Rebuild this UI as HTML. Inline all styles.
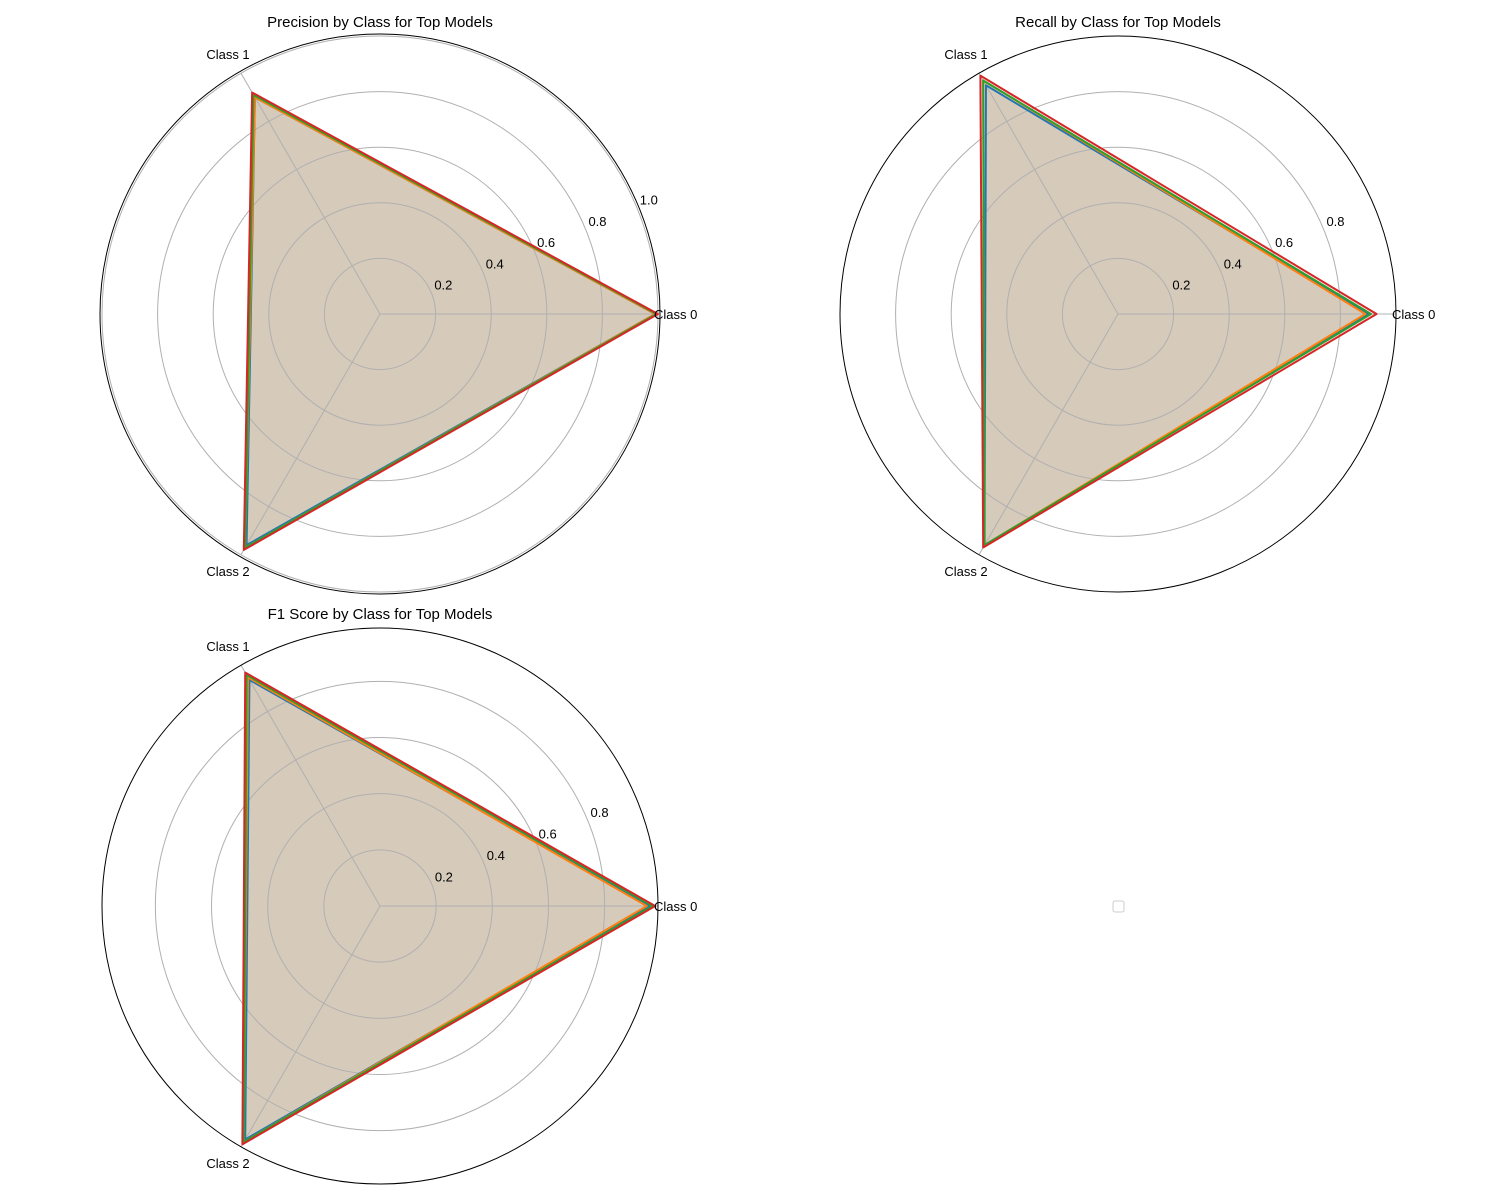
<!DOCTYPE html>
<html><head><meta charset="utf-8">
<style>
body{margin:0;background:#fff;}
svg{display:block;font-family:"Liberation Sans","DejaVu Sans",sans-serif;}
</style></head>
<body>
<svg id="chart" width="1500" height="1200" viewBox="0 0 1500 1200">
<rect width="1500" height="1200" fill="#fff"/>
<rect x="1113" y="901" width="11" height="11" rx="2" fill="#fff" stroke="#ccc"/>
</svg>
<script>
const categories = ["Class 0","Class 1","Class 2"];
const seriesColors = ["#1f77b4","#ff7f0e","#2ca02c","#d62728"];
const precisionValues = [[0.99,0.90,0.96],[0.99,0.90,0.97],[0.995,0.91,0.97],[1.0,0.92,0.98]];
const recallValues = [[0.90,0.95,0.96],[0.89,0.97,0.96],[0.91,0.97,0.96],[0.93,0.99,0.97]];
const f1Values = [[0.96,0.93,0.96],[0.95,0.94,0.97],[0.97,0.95,0.97],[0.98,0.96,0.98]];
const precisionTicks = ["0.2","0.4","0.6","0.8","1.0"];
const recallTicks = ["0.2","0.4","0.6","0.8"];
const f1Ticks = ["0.2","0.4","0.6","0.8"];
const titles = ["Precision by Class for Top Models","Recall by Class for Top Models","F1 Score by Class for Top Models"];

const NS="http://www.w3.org/2000/svg";
const svg=document.getElementById("chart");
function mk(tag,attrs,parent){const e=document.createElementNS(NS,tag);for(const k in attrs)e.setAttribute(k,attrs[k]);(parent||svg).appendChild(e);return e;}

function radar(cx,cy,R,rmax,title,data,ticks,name,doubleSpine){
  const g=mk("g",{});
  
  
  const r=v=>v/rmax*R;
  const ang=i=>i*2*Math.PI/categories.length;
  const pt=(v,i)=>[cx+r(v)*Math.cos(ang(i)),cy-r(v)*Math.sin(ang(i))];
  data.forEach((vals,s)=>{
    const pts=vals.map((v,i)=>pt(v,i).join(",")).join(" ");
    const f=mk("polygon",{points:pts,fill:seriesColors[s],"fill-opacity":0.1,stroke:"none"},g);
    
    
  });
  ticks.forEach((t,k)=>{
    const v=parseFloat(t);
    const c=mk("circle",{cx:cx,cy:cy,r:r(v),fill:"none",stroke:"#b0b0b0","stroke-width":1},g);
    
    
  });
  categories.forEach((c,i)=>{
    const [x,y]=pt(rmax,i);
    const l=mk("line",{x1:cx,y1:cy,x2:x,y2:y,stroke:"#b0b0b0","stroke-width":1},g);
    
    
  });
  data.forEach((vals,s)=>{
    const pts=vals.map((v,i)=>pt(v,i).join(",")).join(" ");
    const p=mk("polygon",{points:pts,fill:"none",stroke:seriesColors[s],"stroke-width":2,"stroke-linejoin":"round"},g);
    
    
  });
  const sp=mk("circle",{cx:cx,cy:cy,r:R+(doubleSpine?2:0),fill:"none",stroke:"#000","stroke-width":1},g);
  
  
  const ta=22.5*Math.PI/180;
  ticks.forEach(t=>{
    const rr=r(parseFloat(t))+13;
    const tx=mk("text",{x:cx+rr*Math.cos(ta),y:cy-rr*Math.sin(ta)+2,"font-size":13,"text-anchor":"middle",fill:"#000"},g);
    tx.textContent=t;
    
    
  });
  categories.forEach((c,i)=>{
    let x,y,anc;
    if(i===0){x=cx+R-4;y=cy+5;anc="start";}
    else{const [px,py]=pt(rmax*1.0,i);x=px-13;y=py+(i===1?-14:21);anc="middle";}
    const tx=mk("text",{x:x,y:y,"font-size":13,"text-anchor":anc,fill:"#000"},g);
    tx.textContent=c;
    
    
  });
  const tt=mk("text",{x:cx,y:cy-287,"font-size":15,"text-anchor":"middle",fill:"#000"},g);
  tt.textContent=title;
  
  
}
radar(380,314,278,1.0,titles[0],precisionValues,precisionTicks,"precision-radar",true);
radar(1118,314,278,1.0,titles[1],recallValues,recallTicks,"recall-radar",false);
radar(380,906,278,0.99,titles[2],f1Values,f1Ticks,"f1-radar",false);
</script>
</body></html>
